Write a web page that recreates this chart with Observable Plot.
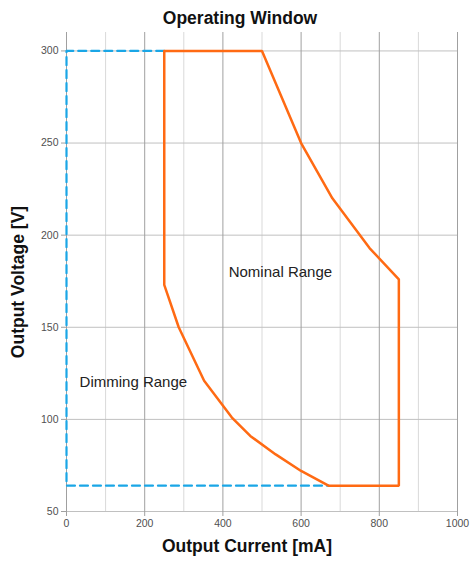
<!DOCTYPE html>
<html>
<head>
<meta charset="utf-8">
<script src="https://cdn.jsdelivr.net/npm/d3@7"></script>
<script src="https://cdn.jsdelivr.net/npm/@observablehq/plot@0.6"></script>
<style>
html,body{margin:0;padding:0;background:#fff;}
svg{display:block;}
</style>
</head>
<body>
<div id="chart"></div>
<script>
const nominalCurrent = [250, 500, 600, 680, 775, 850, 850, 670, 600, 535, 470, 423, 352, 287, 250, 250];
const nominalVoltage = [300, 300, 250, 220, 193, 176, 64, 64, 72, 81, 91, 101, 121, 150, 173, 300];
const dimmingCurrent = [250, 0, 0, 670];
const dimmingVoltage = [300, 300, 64, 64];
const xTicks = [0, 200, 400, 600, 800, 1000];
const xMinor = [100, 300, 500, 700, 900];
const yTicks = [50, 100, 150, 200, 250, 300];
const annotations = [
  {x: 547, y: 180, text: "Nominal Range"},
  {x: 171, y: 120, text: "Dimming Range"}
];

const nominal = nominalCurrent.map((c, i) => ({c, v: nominalVoltage[i]}));
const dimming = dimmingCurrent.map((c, i) => ({c, v: dimmingVoltage[i]}));

const font = "Liberation Sans, Arial, sans-serif";

const chart = Plot.plot({
  width: 470,
  height: 563,
  marginTop: 32,
  marginBottom: 52,
  marginLeft: 66,
  marginRight: 13,
  style: {fontFamily: font, fontSize: "10.5px", color: "#505050", background: "#fff"},
  x: {domain: [0, 1000]},
  y: {domain: [50, 310]},
  marks: [
    Plot.ruleX(xMinor, {y1: 50, y2: 310, stroke: "#d9d9d9", strokeWidth: 1}),
    Plot.ruleY(yTicks, {x1: 0, x2: 1000, stroke: "#c0c0c0", strokeWidth: 1}),
    Plot.ruleX(xTicks, {y1: 50, y2: 310, stroke: "#a0a0a0", strokeWidth: 1}),
    Plot.axisX({ticks: xTicks, tickFormat: d => String(d), tickSize: 5, tickPadding: 3, label: null, stroke: "#a0a0a0", fill: "#505050", fontSize: 10.5}),
    Plot.axisY({ticks: yTicks, tickFormat: d => String(d), tickSize: 5, tickPadding: 3, label: null, stroke: "#a0a0a0", fill: "#505050", fontSize: 10.5}),
    Plot.line(dimming, {x: "c", y: "v", stroke: "#1aa6e6", strokeWidth: 2.2, strokeDasharray: "8,5"}),
    Plot.line(nominal, {x: "c", y: "v", stroke: "#ff6a13", strokeWidth: 2.5, strokeLinejoin: "miter"}),
    Plot.text(annotations, {x: "x", y: "y", text: "text", fontSize: 15, fill: "#222", fontFamily: font}),
    Plot.text(["Operating Window"], {frameAnchor: "top", dx: -22, dy: -21, fontSize: 17.5, fontWeight: "bold", fill: "#111", fontFamily: font}),
    Plot.text(["Output Current [mA]"], {frameAnchor: "bottom", dx: -15, dy: 40, fontSize: 17.5, fontWeight: "bold", fill: "#111", fontFamily: font}),
    Plot.text(["Output Voltage [V]"], {frameAnchor: "left", textAnchor: "middle", dx: -48, dy: 10, rotate: -90, fontSize: 17.5, fontWeight: "bold", fill: "#111", fontFamily: font})
  ]
});
document.getElementById("chart").appendChild(chart);
</script>
</body>
</html>
